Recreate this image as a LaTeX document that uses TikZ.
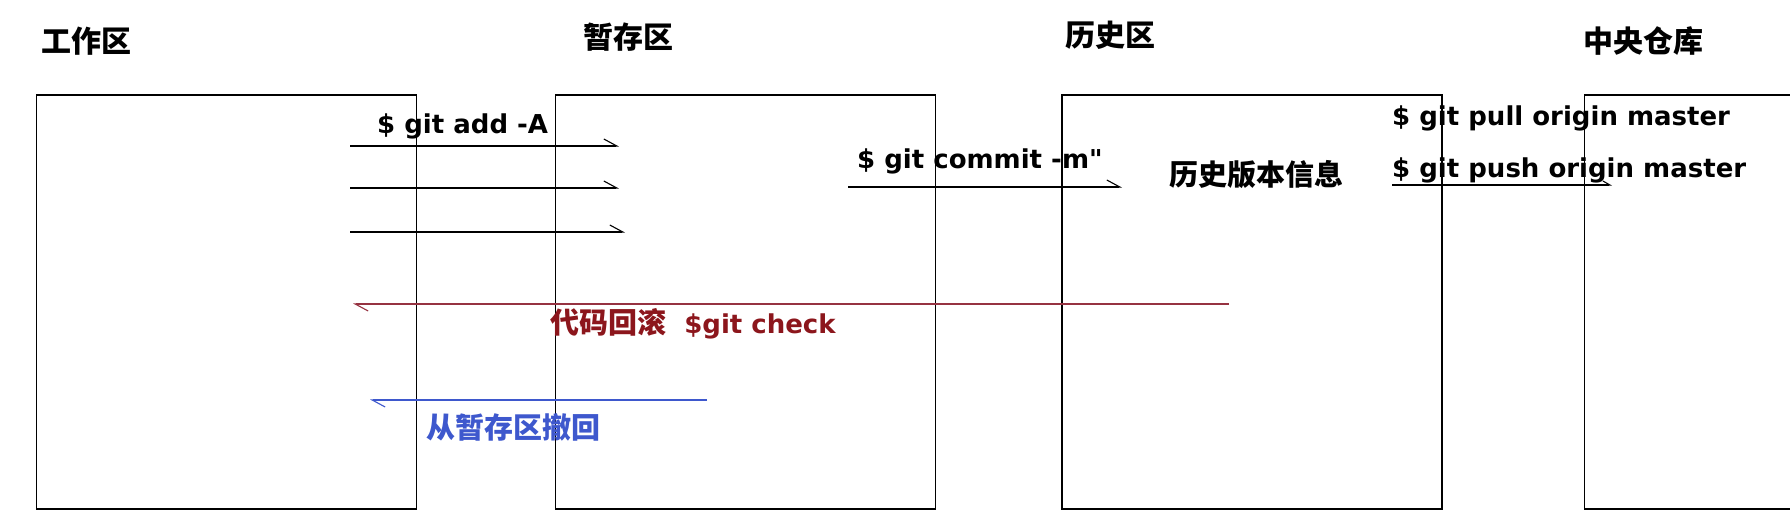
\documentclass[tikz,border=0pt]{standalone}
\usepackage{fontspec}
\setmainfont{DejaVu Sans}[Ligatures=TeXOff]
\newfontfamily\cjk{Noto Sans CJK SC}
\usepackage{xcolor}
\usepackage{tikz}
\usetikzlibrary{positioning}
\usetikzlibrary{arrows.meta}
\definecolor{rollred}{RGB}{140,22,28}
\definecolor{rolllinered}{RGB}{150,50,65}
\definecolor{unstageblue}{RGB}{62,88,205}

\begin{document}
\begin{tikzpicture}[x=1pt, y=-1pt, inner sep=0pt,
    area/.style={draw, line width=1.2pt, minimum width=380pt, minimum height=414pt},
    areaname/.style={anchor=west, font=\cjk\bfseries\fontsize{30}{34}\selectfont},
    cmdtext/.style={anchor=base west, font=\bfseries\fontsize{26}{30}\selectfont},
    cjktext/.style={font=\cjk\bfseries\fontsize{29}{34}\selectfont},
    cmd/.style={line width=1.1pt, -{Straight Barb[harpoon, length=13pt, width=14pt]}}]
\clip (0,0) rectangle (1790,514);

% the four areas
\node (working area) [area] at (226.6,302) {};
\node (staging area) [area, node distance=138pt, right=of working area] {};
\node (history area) [area, node distance=125pt, right=of staging area] {};
\node (remote repo) [area, node distance=141pt, right=of history area] {};

\node (working title) [areaname] at (41,41) {工作区};
\node (staging title) [areaname] at (583,37) {暂存区};
\node (history title) [areaname] at (1065,35) {历史区};
\node (remote title) [areaname] at (1583,41) {中央仓库};

% commands
\coordinate (add a) at (350,146);   \coordinate (add a end) at (619,146);
\coordinate (add b) at (350,188);   \coordinate (add b end) at (619,188);
\coordinate (add c) at (350,232);   \coordinate (add c end) at (625,232);
\coordinate (commit) at (848,187);  \coordinate (commit end) at (1122,187);
\coordinate (push) at (1392,185);   \coordinate (push end) at (1612,185);
\coordinate (rollback) at (1229,304); \coordinate (rollback end) at (353,304);
\coordinate (unstage) at (707,400); \coordinate (unstage end) at (370,400);

\draw [cmd] (add a) -- (add a end);
\draw [cmd] (add b) -- (add b end);
\draw [cmd] (add c) -- (add c end);
\draw [cmd] (commit) -- (commit end);
\draw [line width=1.1pt, -{Straight Barb[harpoon, length=7pt, width=8pt]}] (push) -- (push end);
\draw [cmd, rolllinered] (rollback) -- (rollback end);
\draw [cmd, unstageblue] (unstage) -- (unstage end);

\node (add label) [cmdtext] at (377,133) {\$ git add -A};
\node (commit label) [cmdtext] at (857,168) {\$ git commit -m"};
\node (pull label) [cmdtext] at (1392,125) {\$ git pull origin master};
\node (push label) [cmdtext] at (1392,177) {\$ git push origin master};
\node (history info) [cjktext] at (1256,175) {历史版本信息};
\node (rollback label) [cmdtext, rollred] at (550,333)
  {{\cjk\fontsize{29}{34}\selectfont 代码回滚}\ \ \$git check};
\node (unstage label) [cjktext, anchor=west, unstageblue] at (426,427) {从暂存区撤回};

\end{tikzpicture}
\end{document}
